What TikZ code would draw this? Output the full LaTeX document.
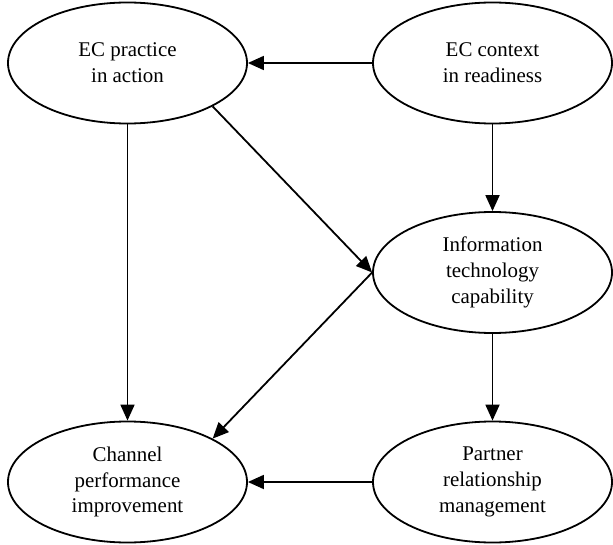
\documentclass[tikz,border=0pt]{standalone}
\usepackage{fontspec}
\setmainfont{Liberation Serif}
\usetikzlibrary{shapes.geometric,arrows.meta}
\begin{document}
\begin{tikzpicture}[x=1bp,y=-1bp,
  oval/.style={draw,ellipse,line width=1.8bp,minimum width=239bp,minimum height=121bp,inner sep=0pt,align=center,font=\fontsize{21}{26}\selectfont},
  arr/.style={line width=1.8bp,-{Triangle[length=16bp,width=14bp]}}]
\useasboundingbox (0,0) rectangle (613,545);
\node[oval] (ecp) at (127.5,63) {EC practice\\in action};
\node[oval] (ecc) at (492.5,63) {EC context\\in readiness};
\node[oval] (it) at (492.5,272.5) {Information\\technology\\capability};
\node[oval] (ch) at (127.5,482) {Channel\\performance\\improvement};
\node[oval] (pr) at (492.5,482) {Partner\\relationship\\management};
\draw[arr] (ecc.west) -- (ecp.east);
\draw[arr] (pr.west) -- (ch.east);
\draw[arr] (ecp.south) -- (ch.north);
\draw[arr] (ecc.south) -- (it.north);
\draw[arr] (it.south) -- (pr.north);
\draw[arr] (ecp.-27) -- (it.west);
\draw[arr] (it.west) -- (ch.27);
\end{tikzpicture}
\end{document}
